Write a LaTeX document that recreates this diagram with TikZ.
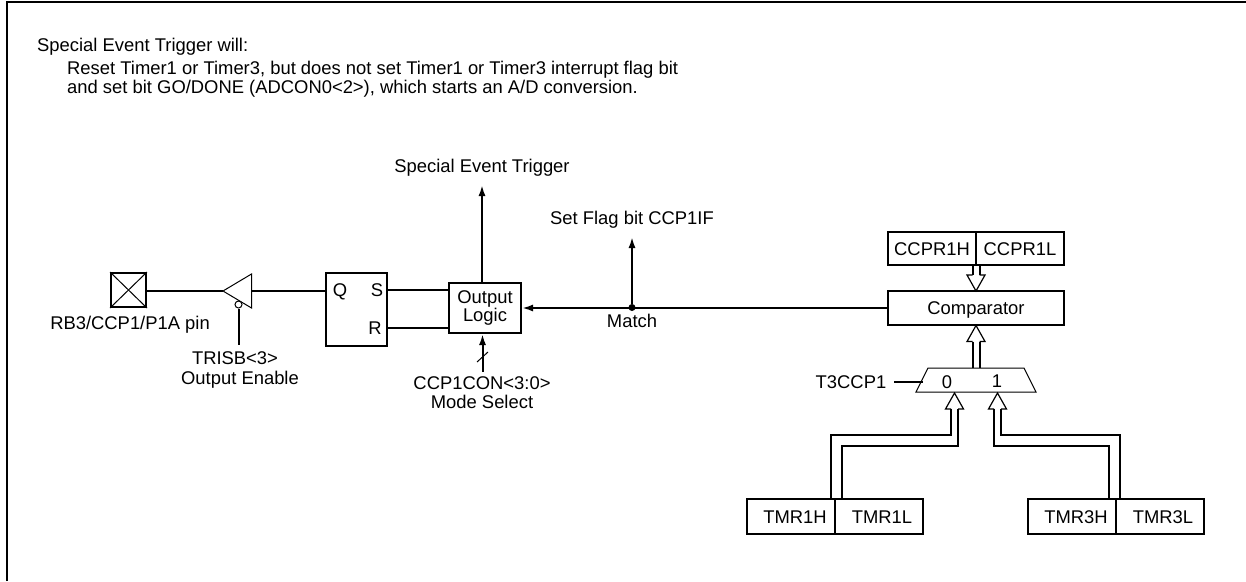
\documentclass[tikz,border=0pt]{standalone}
\usepackage{fontspec}
\setmainfont{Liberation Sans}
\usepackage{tikz}
\usetikzlibrary{arrows.meta}

\tikzset{
    block/.style={draw, line width=2pt, inner sep=0pt, align=center},
    regbox/.style={draw, line width=2pt, inner sep=0pt, text height=13pt, text depth=0pt},
    label/.style={inner sep=0pt, text height=13pt, text depth=0pt},
    wire/.style={line width=2pt},
    thinline/.style={line width=1pt},
    sig/.style={wire, -{Latex[length=11pt, width=7pt]}},
    bushead/.pic={\draw[line width=1.2pt] (-3.5, 16) -- (-9, 16) -- (0, 0) -- (9, 16) -- (3.5, 16);}
}

\begin{document}
\begin{tikzpicture}[x=1pt, y=-1pt, font=\fontsize{18.4}{18}\selectfont]
    \useasboundingbox (0, 0) rectangle (1246, 581);
    % frame
    \draw[line width=2pt] (7, 581) -- (7, 2) -- (1246, 2);

    % note
    \node[label, anchor=west] at (37, 45) (note1) {Special Event Trigger will:};
    \node[label, anchor=west] at (67, 68) (note2) {Reset Timer1 or Timer3, but does not set Timer1 or Timer3 interrupt flag bit};
    \node[label, anchor=west] at (67, 87) (note3) {and set bit GO/DONE (ADCON0<2>), which starts an A/D conversion.};

    % pin and driver
    \node[block, minimum width=35pt, minimum height=34pt] at (128.5, 290) (pin) {};
    \node[label, anchor=east] at (210, 323) (pinname) {RB3/CCP1/P1A pin};
    \coordinate (drvtip) at (223, 291);
    \coordinate (drvback) at (251.5, 291);
    \draw[thinline] (drvtip) -- (251.5, 274) -- (251.5, 308) -- cycle;
    \node[draw, circle, thinline, minimum size=7pt, inner sep=0pt, fill=white] at (238.5, 304.5) (bubble) {};
    \coordinate (oe) at (238.5, 345);
    \node[label] at (235, 358) (trisb) {TRISB<3>};
    \node[label] at (240, 378) (oename) {Output Enable};

    % latch and logic
    \node[block, minimum width=61pt, minimum height=73pt] at (356.5, 309.5) (latch) {};
    \node[label] at (340, 290) (q) {Q};
    \node[label] at (377, 290) (s) {S};
    \node[label] at (375, 328) (r) {R};
    \node[block, minimum width=72pt, minimum height=50pt] at (485, 308) (logic) {Output\\Logic};
    \coordinate (trigend) at (482, 185);
    \node[label] at (482, 166) (trigger) {Special Event Trigger};
    \coordinate (modeend) at (482.5, 372);
    \node[label] at (482, 383) (ccpcon) {CCP1CON<3:0>};
    \node[label] at (482, 402) (mode) {Mode Select};

    % match
    \node[circle, fill=black, minimum size=7pt, inner sep=0pt] at (632, 307.5) (dot) {};
    \coordinate (flagend) at (632, 237);
    \node[label] at (632, 218) (flag) {Set Flag bit CCP1IF};
    \node[label] at (632, 321) (match) {Match};

    % registers
    \node[regbox, minimum width=88pt, minimum height=33pt] at (932, 248.5) (ccprh) {CCPR1H};
    \node[regbox, minimum width=88pt, minimum height=33pt] at (1020, 248.5) (ccprl) {CCPR1L};
    \node[regbox, minimum width=176pt, minimum height=34pt] at (976, 308) (comp) {Comparator};
    \draw[thinline] (928, 368) -- (1024, 368) -- (1036, 392) -- (916, 392) -- cycle;
    \node[label] at (947, 382) (sel0) {0};
    \node[label] at (997, 381) (sel1) {1};
    \node[label] at (851, 382) (t3ccp) {T3CCP1};
    \coordinate (t3start) at (894, 382);
    \coordinate (t3end) at (923, 382);
    \node[regbox, minimum width=88pt, minimum height=35pt] at (791, 516.5) (tmr1h) {\hspace*{8pt}TMR1H};
    \node[regbox, minimum width=88pt, minimum height=35pt] at (879, 516.5) (tmr1l) {\hspace*{6pt}TMR1L};
    \node[regbox, minimum width=88pt, minimum height=35pt] at (1072, 516.5) (tmr3h) {\hspace*{8pt}TMR3H};
    \node[regbox, minimum width=88pt, minimum height=35pt] at (1160, 516.5) (tmr3l) {\hspace*{6pt}TMR3L};

    % edges
    \draw[thinline] (pin.north west) -- (pin.south east);
    \draw[thinline] (pin.south west) -- (pin.north east);
    \draw[wire] (pin.east |- drvtip) -- (drvtip);
    \draw[wire] (drvback) -- (latch.west |- drvback);
    \draw[wire] (bubble) -- (oe);
    \draw[wire] (latch.east |- s) -- (logic.west |- s);
    \draw[wire] (latch.east |- r) -- (logic.west |- r);
    \draw[sig] (logic.north -| trigend) -- (trigend);
    \draw[sig] (modeend) -- (logic.south -| modeend);
    \draw[thinline] (477, 362) -- (488, 352);
    \draw[sig] (comp.west) -- (logic.east |- comp.west);
    \draw[sig] (dot) -- (flagend);
    \draw[wire] (t3start) -- (t3end);

    % buses
    \pic[yscale=-1] at (976, 291) {bushead};
    \draw[wire] (972.5, 266) -- (972.5, 275);
    \draw[wire] (979.5, 266) -- (979.5, 275);
    \pic at (976, 325.5) {bushead};
    \draw[wire] (972.5, 341.5) -- (972.5, 368);
    \draw[wire] (979.5, 341.5) -- (979.5, 368);
    \pic at (954.5, 393) {bushead};
    \draw[wire] (951, 409) |- (831, 435) -- (831, 499);
    \draw[wire] (958, 409) |- (842, 446) -- (842, 499);
    \pic at (997.5, 393) {bushead};
    \draw[wire] (1001, 409) |- (1120, 435) -- (1120, 499);
    \draw[wire] (994, 409) |- (1109, 446) -- (1109, 499);
\end{tikzpicture}
\end{document}
